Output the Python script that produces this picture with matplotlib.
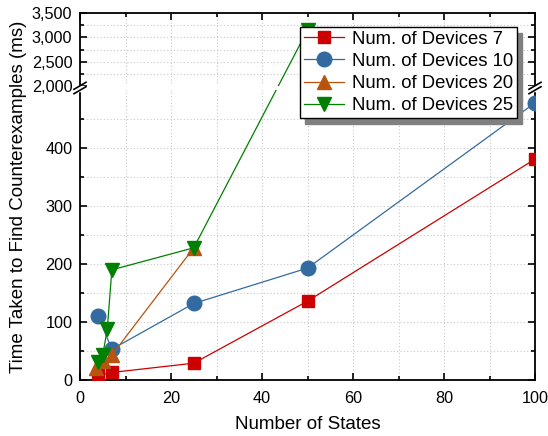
import matplotlib
matplotlib.use("Agg")
import numpy as np
import matplotlib.pyplot as plt
from matplotlib.ticker import FixedLocator, FuncFormatter
from matplotlib.lines import Line2D
from matplotlib.patches import Rectangle

plt.rcParams['font.family'] = ['Liberation Sans', 'DejaVu Sans']

# Data
x7 = [4, 7, 25, 50, 100]
y7 = [8, 13, 29, 136, 381]
x10 = [4, 7, 25, 50, 100]
y10 = [110, 53, 132, 193, 478]
x20 = [3.5, 5, 7, 25]
y20 = [20, 32, 43, 228]
x25 = [4, 5, 6, 7, 25, 50]
y25 = [31, 43, 88, 190, 228, 3150]

labels = ["Num. of Devices 7", "Num. of Devices 10", "Num. of Devices 20", "Num. of Devices 25"]
colors = ["#CC0000", "#336BA0", "#B8540F", "#008000"]
markers = ["s", "o", "^", "v"]
msizes = [9, 10.5, 10.5, 10.5]
series = [(x7, y7), (x10, y10), (x20, y20), (x25, y25)]

# broken y-axis: 0-500 (lower), small gap, 2000-3500 (upper)
src = [-1e6, 0, 500, 2000, 3500, 1e6]
gap = 7.0
up = 126.0
dst = [-1e6, 0, 500, 500 + gap, 500 + gap + up, 500 + gap + up + (1e6 - 3500) * up / 1500]

def fwd(y):
    return np.interp(y, src, dst)

def inv(y):
    return np.interp(y, dst, src)

fig = plt.figure(figsize=(5.48, 4.36), dpi=100)
L, R = 80/548, 535/548
ax = fig.add_axes([L, 1-380/436, R-L, (380-13)/436])
ax.set_yscale('function', functions=(fwd, inv))

for (xs, ys), c, m, ms in zip(series, colors, markers, msizes):
    ax.plot(xs, ys, color=c, lw=0.9, marker=m, ms=ms, mec=c, mfc=c, zorder=3)

ax.set_xlim(0, 100)
ax.set_ylim(0, 3500)
ax.xaxis.set_major_locator(FixedLocator([0, 20, 40, 60, 80, 100]))
ax.xaxis.set_minor_locator(FixedLocator([10, 30, 50, 70, 90]))
ax.yaxis.set_major_locator(FixedLocator([0, 100, 200, 300, 400, 2000, 2500, 3000, 3500]))
ax.yaxis.set_minor_locator(FixedLocator([50, 150, 250, 350, 450, 2250, 2750, 3250]))
ax.yaxis.set_major_formatter(FuncFormatter(lambda v, p: f"{int(round(v)):,}"))
ax.grid(True, which='both', color='#c8c8c8', ls=(0, (1, 2)), lw=0.8, zorder=0)
ax.set_axisbelow(True)
ax.tick_params(which='both', direction='in', top=True, right=True, labelsize=11.7, width=1.2)
ax.tick_params(which='major', length=5)
ax.tick_params(which='minor', length=3)
ax.tick_params(axis='x', which='major', pad=8)
ax.tick_params(axis='y', which='major', pad=5.5)
for s in ax.spines.values():
    s.set_linewidth(1.3)

# white band for the break gap (hides lines crossing it)
ax.axhspan(500.5, 1999.5, color='white', zorder=4, lw=0)

ax.set_xlabel("Number of States", fontsize=13.5, labelpad=7)
fig.text(0.033, 1 - 197/436, "Time Taken to Find Counterexamples (ms)", rotation=90,
         fontsize=13.5, ha='center', va='center')

# break marks
for xf in (L, R):
    yc0 = 1 - 88/436
    fig.add_artist(Rectangle((xf - 2/548, yc0 - 2.5/436), 4/548, 5/436, color='white',
                             transform=fig.transFigure, zorder=5))
    for dy in (-2.2, 2.2):
        yc = 1 - (88 + dy)/436
        fig.add_artist(Line2D([xf - 6/548, xf + 6/548], [yc - 3.5/436, yc + 3.5/436],
                              color='black', lw=1.2, transform=fig.transFigure, zorder=6))

handles = [Line2D([], [], color=c, marker=m, ms=ms, lw=0.9, mec=c, mfc=c)
           for c, m, ms in zip(colors, markers, msizes)]
leg = fig.legend(handles, labels, loc='upper left', bbox_to_anchor=(300/548, 1-27/436),
                 fontsize=13.3, frameon=True, fancybox=False, shadow=False, framealpha=1,
                 borderpad=0.2, labelspacing=0.28, handlelength=2.2, handletextpad=0.4,
                 borderaxespad=0)
leg.get_frame().set_edgecolor('black')
leg.get_frame().set_linewidth(1.0)
leg.set_zorder(10)

fig.canvas.draw()
bb = leg.get_window_extent()
W, H = fig.bbox.width, fig.bbox.height
fig.add_artist(Rectangle(((bb.x0 + 5) / W, (bb.y0 - 6) / H), bb.width / W, bb.height / H,
                         color='0.5', transform=fig.transFigure, zorder=9))

fig.savefig("out.png", dpi=100)
